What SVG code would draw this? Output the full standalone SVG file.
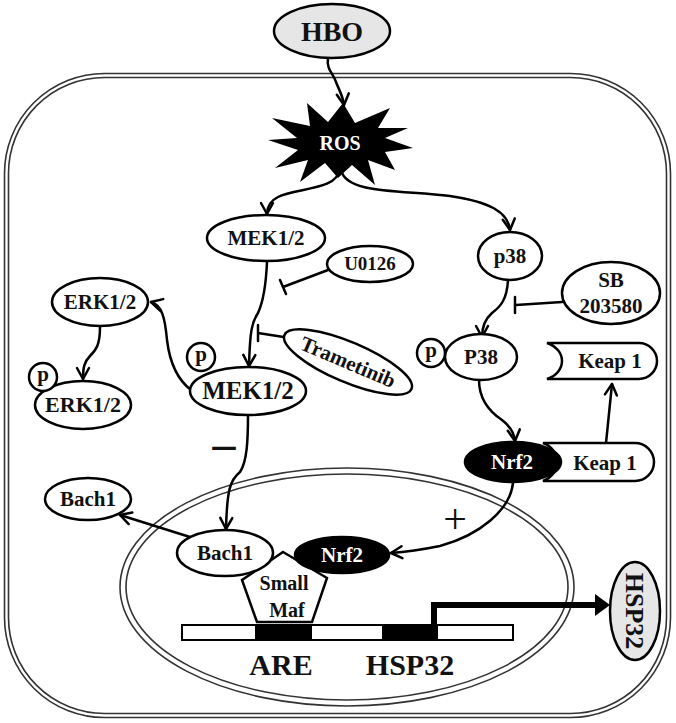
<svg xmlns="http://www.w3.org/2000/svg" width="676" height="723" viewBox="0 0 676 723">
<defs>
<style>
.nd{fill:#fff;stroke:#000;stroke-width:2.5}
.bk{fill:#000;stroke:#000;stroke-width:2.5}
.gy{fill:#e6e6e6;stroke:#000;stroke-width:2.5}
.mem{fill:none;stroke:#333;stroke-width:1.6}
.t{font-family:"Liberation Serif","Times New Roman",serif;font-weight:bold;text-anchor:middle;fill:#111}
.w{fill:#fff}
.c{fill:none;stroke:#000;stroke-width:2.5;stroke-linecap:round}
.ar{marker-end:url(#arr)}
</style>
<marker id="arr" markerUnits="userSpaceOnUse" markerWidth="16" markerHeight="16" viewBox="0 0 16 16" refX="14" refY="8" orient="auto">
<path d="M3,2 L14,8 L3,14" fill="none" stroke="#000" stroke-width="2.5" stroke-linecap="round" stroke-linejoin="round"/>
</marker>
</defs>
<rect width="676" height="723" fill="#fff"/>

<g id="cell">
<rect class="mem" x="4.5" y="73.5" width="666" height="644" rx="100" ry="100"/>
<rect class="mem" x="8.5" y="77.5" width="658" height="636" rx="96" ry="96"/>
</g>
<g id="nucleus">
<ellipse class="mem" cx="347" cy="587" rx="227" ry="119"/>
<ellipse class="mem" cx="347" cy="587" rx="221" ry="113"/>
</g>

<g id="connectors">
<path class="c ar" d="M328,58 C326,70 334,74 336,82 C339,90 343,96 344,105"/>
<path class="c ar" d="M339,170 C338,190 295,188 278,197 C270,201 267,206 267,214"/>
<path class="c ar" d="M341,170 C346,194 400,190 450,196 C490,202 508,212 510,230"/>
<path class="c ar" d="M267,262 C266,285 264,300 258,313 C252,322 250,330 249,366"/>
<path class="c" d="M328,270 L283,287 M280,280 L286,294"/>
<path class="c" d="M290,338 L258,333 M258,325 L258,341"/>
<path class="c ar" d="M191,390 C178,380 170,365 167,340 C165,318 162,305 151,302"/>
<path class="c ar" d="M100,327 C100,345 96,350 90,356 C84,362 83,368 83,379"/>
<path class="c ar" d="M248,415 C248,440 247,462 240,472 C230,480 227,490 226,529"/>
<path class="c ar" d="M508,280 C507,300 500,307 492,313 C484,320 482,328 482,337"/>
<path class="c" d="M562,302 L516,305 M515,297 L515,313"/>
<path class="c ar" d="M479,380 C479,400 490,412 502,420 C510,426 514,432 515,441"/>
<path class="c ar" d="M606,443 L612,384"/>
<path class="c ar" d="M513,483 C510,510 480,535 440,546 C420,550 405,552 391,553"/>
<path class="c ar" d="M190,537 L120,515"/>
<path d="M434,624 L434,605 L597,605" fill="none" stroke="#000" stroke-width="6"/>
<polygon points="595,594 610,605 595,616" fill="#000"/>
</g>

<g id="HBO">
<ellipse class="gy" cx="332" cy="31" rx="58" ry="27"/>
<text class="t" x="332" y="41" font-size="28">HBO</text>
</g>
<g id="ROS">
<polygon fill="#000" points="343,103 355,123 390,108 378,128 408,128 385,138 413,148 385,152 395,170 368,160 375,185 352,165 338,178 325,163 300,182 308,160 275,168 298,150 268,140 297,138 272,118 310,126 307,103 328,122"/>
<text class="t w" x="340" y="150" font-size="20">ROS</text>
</g>
<g id="MEK">
<ellipse class="nd" cx="266" cy="238" rx="59" ry="23"/>
<text class="t" x="266" y="245" font-size="21">MEK1/2</text>
</g>
<g id="U0126">
<ellipse class="nd" cx="370" cy="264" rx="43" ry="18"/>
<text class="t" x="370" y="270" font-size="19">U0126</text>
</g>
<g id="Trametinib">
<g transform="translate(348,362) rotate(23)">
<ellipse class="nd" cx="0" cy="0" rx="69" ry="20"/>
<text class="t" x="0" y="7" font-size="21">Trametinib</text>
</g>
</g>
<g id="pMEK">
<ellipse class="nd" cx="248" cy="391" rx="58" ry="24"/>
<text class="t" x="248" y="399" font-size="25">MEK1/2</text>
<circle class="nd" cx="201" cy="357" r="14"/>
<text class="t" x="201" y="361" font-size="21">p</text>
</g>
<g id="ERK">
<ellipse class="nd" cx="100" cy="302" rx="48" ry="24"/>
<text class="t" x="100" y="309" font-size="21">ERK1/2</text>
</g>
<g id="pERK">
<ellipse class="nd" cx="83" cy="405" rx="48" ry="24"/>
<text class="t" x="83" y="412" font-size="22">ERK1/2</text>
<circle class="nd" cx="43" cy="377" r="14"/>
<text class="t" x="43" y="381" font-size="21">p</text>
</g>
<g id="p38">
<ellipse class="nd" cx="510" cy="256" rx="32" ry="24"/>
<text class="t" x="510" y="263" font-size="21">p38</text>
</g>
<g id="SB203580">
<ellipse class="nd" cx="611" cy="293" rx="49" ry="31"/>
<text class="t" x="611" y="287" font-size="21">SB</text>
<text class="t" x="611" y="313" font-size="21">203580</text>
</g>
<g id="pP38">
<ellipse class="nd" cx="481" cy="357" rx="36" ry="23"/>
<text class="t" x="481" y="364" font-size="21">P38</text>
<circle class="nd" cx="431" cy="353" r="14"/>
<text class="t" x="431" y="357" font-size="21">p</text>
</g>
<g id="Keap1">
<path class="nd" d="M547,343 L639,343 A18,18 0 0 1 639,379 L547,379 C567,372 567,350 547,343 Z"/>
<text class="t" x="610" y="368" font-size="21">Keap 1</text>
</g>
<g id="Nrf2Keap1">
<path class="nd" d="M543,443 L635,443 A19,19 0 0 1 635,481 L543,481 C562,474 562,450 543,443 Z"/>
<text class="t" x="605" y="470" font-size="21">Keap 1</text>
<ellipse class="bk" cx="513" cy="462" rx="48" ry="20"/>
<text class="t w" x="512" y="469" font-size="21">Nrf2</text>
</g>
<g id="Bach1out">
<ellipse class="nd" cx="88" cy="499" rx="43" ry="21"/>
<text class="t" x="88" y="506" font-size="21">Bach1</text>
</g>
<g id="SmallMaf">
<polygon class="nd" points="283,552 327,578 312,622 257,622 242,580"/>
<text class="t" x="284" y="590" font-size="20">Small</text>
<text class="t" x="287" y="617" font-size="20">Maf</text>
</g>
<g id="Bach1in">
<ellipse class="nd" cx="225" cy="553" rx="48" ry="23"/>
<text class="t" x="225" y="560" font-size="21">Bach1</text>
</g>
<g id="Nrf2in">
<ellipse class="bk" cx="342" cy="555" rx="47" ry="18"/>
<text class="t w" x="342" y="562" font-size="21">Nrf2</text>
</g>
<g id="DNA">
<rect x="182" y="625" width="331" height="15" fill="#fff" stroke="#000" stroke-width="2"/>
<rect x="255" y="625" width="57" height="15" fill="#000"/>
<rect x="382" y="625" width="56" height="15" fill="#000"/>
<text class="t" x="281" y="675" font-size="30">ARE</text>
<text class="t" x="410" y="675" font-size="30">HSP32</text>
</g>
<g id="HSP32">
<ellipse class="gy" cx="635" cy="611" rx="25" ry="49"/>
<text class="t" transform="translate(635,611) rotate(90)" x="0" y="9" font-size="26">HSP32</text>
</g>
<g id="labels">
<text class="t" x="224" y="459" font-size="46">–</text>
<text x="455" y="533" font-family="Liberation Serif, serif" font-size="42" text-anchor="middle" fill="#111">+</text>
</g>
</svg>
